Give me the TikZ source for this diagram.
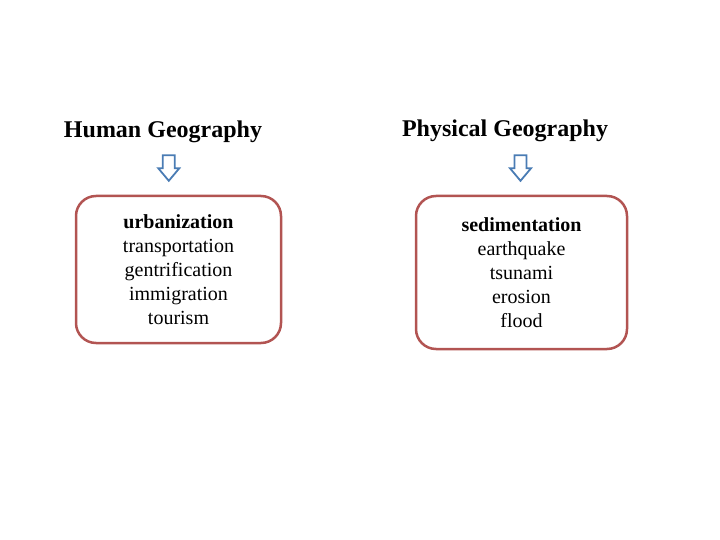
\documentclass[tikz,border=0pt]{standalone}
\usepackage{fontspec}
\setmainfont{Liberation Serif}
\definecolor{boxred}{RGB}{178,84,82}
\definecolor{arrowblue}{RGB}{74,124,180}

\tikzset{
  heading/.style={anchor=base, font=\bfseries\fontsize{24}{29}\selectfont},
  topicbox/.style={draw=boxred, line width=2.5pt, rounded corners=20pt,
    align=center, inner sep=0pt, font=\fontsize{20}{24}\selectfont},
  hollowdown/.pic={
    \draw[arrowblue, line width=1.8pt, fill=white, line join=miter]
      (-6,0) -- (6,0) -- (6,13) -- (10.5,13) -- (0,25.5) -- (-10.5,13) -- (-6,13) -- cycle;
  }
}

\begin{document}
\begin{tikzpicture}[x=1pt,y=-1pt]
  \useasboundingbox (0,0) rectangle (720,540);

  % the two headings
  \node[heading] (human) at (163,137.5) {Human Geography};
  \node[heading] (physical) at (505,137) {Physical Geography};

  % hollow arrows under the headings
  \pic at (168.8,155.3) {hollowdown};
  \pic at (520.5,155.3) {hollowdown};

  % the topic boxes
  \node[topicbox, minimum width=205pt, minimum height=147pt] (humanbox) at (178.5,269.5)
    {\textbf{urbanization}\\transportation\\gentrification\\immigration\\tourism};
  \node[topicbox, minimum width=211pt, minimum height=153pt] (physbox) at (521.5,272.5)
    {\textbf{sedimentation}\\earthquake\\tsunami\\erosion\\flood};
\end{tikzpicture}
\end{document}
